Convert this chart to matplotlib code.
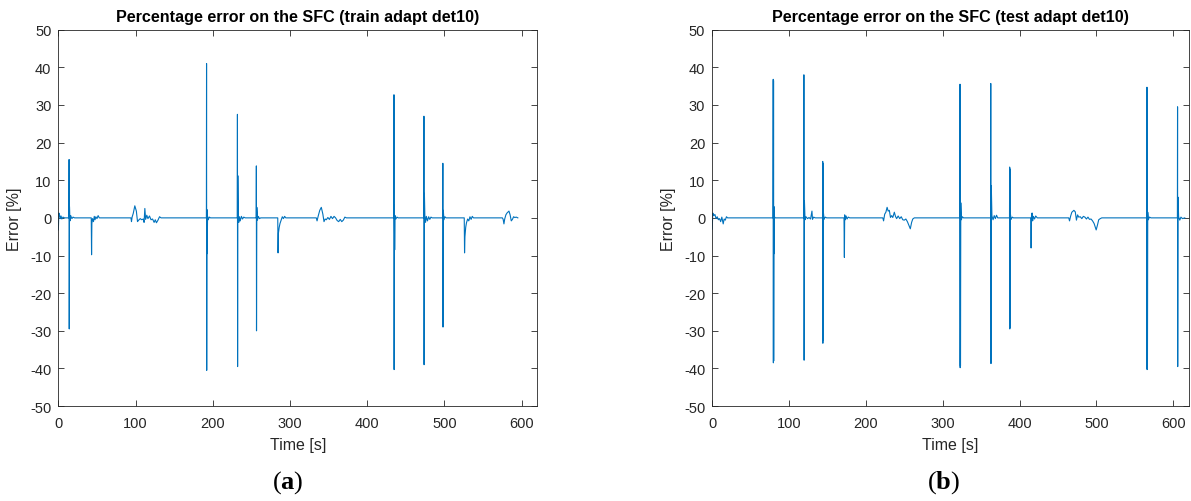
import numpy as np
import matplotlib.pyplot as plt

# left panel: training run (time [s], error [%])
train_t = [0, 0.6, 1.5, 2.5, 3.5, 4.5, 6, 8,
           13.7, 13.9, 14.1, 14.4, 15, 16, 17.5, 19, 21,
           42.6, 43.0, 43.4, 44.2, 45.5, 46.5, 47.5, 48.5, 50, 51.5, 52, 53,
           94, 94.7, 95.5, 97, 99, 101, 102.5, 104, 106, 108, 110, 111, 112, 113, 114.5, 116,
           118, 120, 122, 124, 125.5, 127, 129, 131, 133,
           191.7, 191.9, 192.1, 192.4, 192.7, 193.2, 194, 195.5, 197,
           231.7, 231.9, 232.1, 232.4, 232.8, 233.6, 234.5, 235.5, 237, 238.5, 240, 242,
           256.2, 256.4, 256.6, 257, 257.8, 259, 260.5, 262,
           284.1, 284.5, 285, 286, 287, 288.5, 290, 291.5, 293, 294.5,
           334, 335, 336.5, 338.5, 340.5, 342.5, 344, 345.5, 347, 349, 351, 353, 355, 357,
           359, 361, 363, 365, 367, 369, 371, 373,
           434.4, 434.6, 434.8, 435.1, 435.5, 436, 437, 438.5, 440,
           473.2, 473.4, 473.6, 474, 474.6, 475.5, 476.5, 478, 479.5, 481, 482.5, 484,
           497.7, 497.9, 498.1, 498.5, 499.3, 500.5, 502,
           525.6, 526, 526.5, 527.5, 528.5, 530, 531.5, 533, 534.5, 536, 537.5,
           575, 576, 577, 578, 579.5, 581, 583.5, 585, 586.5, 588, 589.5, 591, 593, 595]
train_e = [-3.2, 1.3, 0.8, -0.2, 0.5, -0.3, 0.2, 0,
           0, 15.5, -29.5, 3.0, -0.8, 0.6, -0.2, 0.2, 0,
           0, -9.8, -1.5, -0.2, -1.0, 0.4, -0.5, 0.3, -0.2, 0.6, 0.4, 0,
           0, -1.0, 0.2, 1.2, 3.2, 1.8, -1.0, -0.6, -0.2, -0.5, -0.3, -1.2, 2.5, -0.4, 0.7, -0.2,
           0.5, -0.5, -0.3, -1.2, -0.5, -1.3, -0.6, 0.3, 0,
           0, 41, -40.5, 2.2, -9.5, 0.4, -0.5, 0.2, 0,
           0, 27.5, -39.5, 11.2, 1.5, -1.2, 0.3, -0.8, 0.4, -0.3, 0.2, 0,
           0, 13.8, -30, 2.8, -0.6, 0.4, -0.2, 0,
           0, -9.3, -4, -2.5, -1.5, -0.6, 0.3, -0.2, 0.4, 0,
           0, -0.8, 0.5, 2.0, 2.8, 1.0, -1.0, -0.3, -0.5, 0.1, -0.4, 0.4, -0.2, 0.4,
           0.0, -0.7, -1.0, -0.4, -1.0, -0.6, 0.2, 0,
           0, 32.7, -40.3, 3.5, -8.5, 0.6, -0.3, 0.2, 0,
           0, 27, -39, 6.5, 0.5, -1.2, 0.4, -0.8, 0.3, -0.4, 0.2, 0,
           0, 14.5, -29, 2, -0.5, 0.3, 0,
           0, -9.3, -5, -2.5, -1.3, -0.3, -0.8, 0.3, -0.4, 0.4, 0,
           0, -0.4, -1.6, -0.3, 0.8, 1.3, 1.8, 0.8, -0.8, -0.4, 0.3, 0.1, 0.2, 0]

# right panel: test run
test_t = [0, 0.7, 2, 3.5, 5, 6.5, 8, 9.5, 11, 12.5, 14.3, 15.5, 17, 18.5, 20,
          79.2, 79.4, 79.6, 79.8, 80.0, 80.3, 80.6, 81, 82,
          119.1, 119.3, 119.6, 120.0, 120.8, 122, 124, 126, 128, 129.8, 130.5, 132, 134,
          143.6, 143.8, 144.0, 144.2, 144.4, 144.8, 145.5, 147, 149,
          171.5, 172.0, 172.4, 173.2, 174.2, 175.5, 177, 179,
          222, 223, 224.5, 226, 227.6, 229, 230.5, 232, 233.5, 235, 237, 238.5, 240, 242,
          244, 246, 248, 250, 252, 254, 256, 257.8, 259.5, 261, 263,
          322.3, 322.5, 322.7, 322.9, 323.1, 323.5, 324.2, 325.5, 327,
          362.3, 362.5, 362.8, 363.2, 364, 365.5, 367, 368.5, 370, 371.5,
          386.9, 387.1, 387.3, 387.5, 387.7, 388.1, 389, 390.5, 392,
          414.6, 415.0, 415.5, 416.3, 417, 418, 419.5, 421, 423,
          464, 465, 466.5, 468, 470.7, 472.5, 474, 475.5, 477, 479, 481, 483, 485, 487,
          489, 491, 493, 495, 497, 499.7, 501.5, 503, 505, 507,
          565.6, 565.8, 566.0, 566.2, 566.4, 566.8, 567.5, 569, 571,
          605.4, 605.6, 605.8, 606.2, 607, 608.5, 610, 612, 615]
test_e = [-3.0, 1.3, 0.6, 0.9, -0.2, 0.3, -0.5, -0.2, -1.0, 0.2, -1.6, -0.3, -0.6, 0.3, 0,
          0, 36.8, -38.5, 36.5, -38, 3, -9.5, 0.3, 0,
          0, 38, -37.8, 4.5, -0.5, 0.3, -0.2, 0.1, -0.3, 1.8, -0.4, 0.2, 0,
          0, 15, -33.3, 14.5, -32.5, 1.2, -0.4, 0.2, 0,
          0, -10.5, 0.8, -0.5, 0.5, -0.3, 0.2, 0,
          0, -0.8, 1.0, 1.5, 2.8, 1.8, 2.0, 0.1, 0.6, 0.1, 1.5, 0.4, -0.2, 0.5,
          -0.2, 0.3, -0.5, -0.6, -0.3, -1.0, -2.0, -2.9, -1.2, -0.3, 0,
          0, 35.5, -39.8, 35, -39.3, 4, -0.5, 0.3, 0,
          0, 35.7, -38.7, 8.5, 0.5, -0.5, 0.6, -0.2, 0.7, 0,
          0, 13.5, -29.5, 13, -29, 1.0, -0.4, 0.2, 0,
          0, -8.0, 0.5, 1.3, -0.8, 0.4, -0.3, 0.5, 0,
          0, -0.8, 0.5, 1.5, 2.0, 1.6, -0.6, 0.8, 0.2, 0.3, -0.2, 0.4, 0.2, -0.3,
          0.2, -0.4, -0.3, -0.8, -1.5, -3.2, -1.8, -0.5, -0.2, 0,
          0, 34.7, -40.3, 34.2, -40, 1.5, -0.5, 0.2, 0,
          0, 29.5, -39.5, 5.5, 0.3, -0.6, 0.2, -0.2, 0]

titles = ['Percentage error on the SFC (train adapt det10)',
          'Percentage error on the SFC (test adapt det10)']
panel_tags = ['a', 'b']

plt.rcParams['font.family'] = ['Liberation Sans', 'DejaVu Sans']
plt.rcParams['axes.unicode_minus'] = False
plt.rcParams['mathtext.fontset'] = 'custom'
plt.rcParams['mathtext.rm'] = 'Liberation Serif'
plt.rcParams['mathtext.bf'] = 'Liberation Serif:bold'

fig = plt.figure(figsize=(11.91, 5.02), dpi=100)
boxes = [[0.049, 0.189, 0.402, 0.750], [0.598, 0.189, 0.400, 0.750]]
series = [(train_t, train_e), (test_t, test_e)]
tag_x = [0.242, 0.792]

for box, (t, e), title, tag, tx in zip(boxes, series, titles, panel_tags, tag_x):
    ax = fig.add_axes(box)
    ax.plot(t, e, color='#0072BD', lw=0.8)
    ax.set_xlim(0, 620)
    ax.set_ylim(-50, 50)
    ax.set_xticks(np.arange(0, 601, 100))
    ax.set_yticks(np.arange(-50, 51, 10))
    ax.tick_params(direction='in', top=True, right=True, length=4, width=0.6,
                   colors='#262626', labelsize=10.5, pad=5)
    ax.tick_params(axis='x', pad=7)
    for s in ax.spines.values():
        s.set_linewidth(0.6)
        s.set_color('#262626')
    ax.set_title(title, fontsize=11.6, fontweight='bold', pad=6)
    ax.set_xlabel('Time [s]', fontsize=11.5, color='#262626', labelpad=5)
    ax.set_ylabel('Error [%]', fontsize=11.5, color='#262626', labelpad=6)
    fig.text(tx, 0.038, r'$(\mathbf{%s})$' % tag, fontsize=19, ha='center', va='center')

plt.savefig('out.png', dpi=100)
